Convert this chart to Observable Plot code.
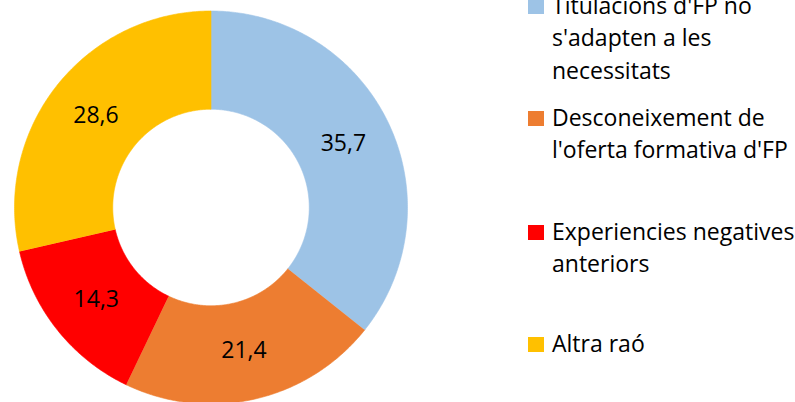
<!DOCTYPE html>
<html>
<head>
<meta charset="utf-8">
<script src="https://cdn.jsdelivr.net/npm/d3@7"></script>
<script src="https://cdn.jsdelivr.net/npm/@observablehq/plot@0.6"></script>
<style>
  html, body { margin: 0; padding: 0; background: #fff; }
  #wrap { position: relative; width: 795px; height: 402px; overflow: hidden; font-family: "Open Sans", sans-serif; }
  #chart { position: absolute; left: 0; top: 0; }
  .item { position: absolute; left: 528px; display: flex; align-items: flex-start; }
  .sw { width: 16px; height: 15px; margin-top: 10.5px; flex: none; }
  .lbl { margin-left: 8px; font-size: 23px; line-height: 32.5px; white-space: pre; color: #000; }
</style>
</head>
<body>
<div id="wrap"><div id="chart"></div><div id="legend"></div></div>
<script>
const categories = [
  "Titulacions d'FP no s'adapten a les necessitats",
  "Desconeixement de l'oferta formativa d'FP",
  "Experiencies negatives anteriors",
  "Altra raó"
];
const legendLines = [
  "Titulacions d'FP no\ns'adapten a les\nnecessitats",
  "Desconeixement de\nl'oferta formativa d'FP",
  "Experiencies negatives\nanteriors",
  "Altra raó"
];
const values = [35.7, 21.4, 14.3, 28.6];
const colors = ["#9DC3E6", "#ED7D31", "#FF0000", "#FFC000"];

const total = d3.sum(values);
const inner = 0.5, outer = 1, labelR = 0.748;
const pts = [], labels = [];
let cum = 0;
categories.forEach((c, i) => {
  const a0 = cum / total * 2 * Math.PI;
  cum += values[i];
  const a1 = cum / total * 2 * Math.PI;
  const n = Math.max(8, Math.ceil((a1 - a0) / 0.01));
  for (let k = 0; k <= n; k++) {
    const a = a0 + (a1 - a0) * k / n;
    pts.push({cat: c, x: outer * Math.sin(a), y: outer * Math.cos(a)});
  }
  for (let k = n; k >= 0; k--) {
    const a = a0 + (a1 - a0) * k / n;
    pts.push({cat: c, x: inner * Math.sin(a), y: inner * Math.cos(a)});
  }
  const am = (a0 + a1) / 2;
  labels.push({x: labelR * Math.sin(am), y: labelR * Math.cos(am), text: values[i].toFixed(1).replace(".", ",")});
});

const chart = Plot.plot({
  width: 420, height: 402,
  margin: 0,
  style: {fontFamily: "Open Sans", background: "transparent"},
  x: {domain: [-1, 1], range: [14, 407], axis: null},
  y: {domain: [-1, 1], range: [403.5, 10.5], axis: null},
  color: {domain: categories, range: colors},
  marks: [
    Plot.line(pts, {x: "x", y: "y", z: "cat", fill: "cat", stroke: "cat", strokeWidth: 0.6}),
    Plot.text(labels, {x: "x", y: "y", text: "text", fontSize: 23, fill: "#000"})
  ]
});
document.getElementById("chart").appendChild(chart);

const tops = [-11.2, 100.8, 214.8, 326.5];
const legend = document.getElementById("legend");
legendLines.forEach((t, i) => {
  const it = document.createElement("div");
  it.className = "item";
  it.style.top = tops[i] + "px";
  const sw = document.createElement("div");
  sw.className = "sw";
  sw.style.background = colors[i];
  const lb = document.createElement("div");
  lb.className = "lbl";
  lb.textContent = t;
  it.appendChild(sw); it.appendChild(lb);
  legend.appendChild(it);
});
</script>
</body>
</html>
